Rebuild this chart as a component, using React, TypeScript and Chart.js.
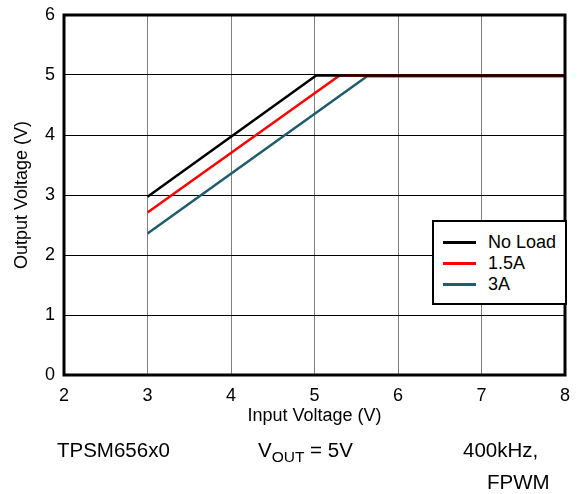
import React, { useEffect, useRef } from "react";
import { Chart, registerables } from "chart.js";

Chart.register(...registerables);

const seriesNames = ["No Load", "1.5A", "3A"];
const seriesColors = ["#000000", "#ff0000", "#1f5d6c"];
const noLoadX = [3, 5.02, 8];
const noLoadY = [2.97, 4.99, 4.99];
const load15X = [3, 5.3, 8];
const load15Y = [2.71, 4.99, 4.99];
const load3X = [3, 5.63, 8];
const load3Y = [2.36, 4.98, 4.98];
const xTicks = [2, 3, 4, 5, 6, 7, 8];
const yTicks = [0, 1, 2, 3, 4, 5, 6];

const FONT = "'Liberation Sans', Arial, sans-serif";

const toPoints = (xs: number[], ys: number[]) => xs.map((x, i) => ({ x, y: ys[i] }));

const framePlugin = {
  id: "frame",
  afterDraw(chart: any) {
    const { ctx, chartArea } = chart;
    ctx.save();
    ctx.strokeStyle = "#000";
    ctx.lineWidth = 3;
    ctx.strokeRect(chartArea.left, chartArea.top, chartArea.right - chartArea.left, chartArea.bottom - chartArea.top);
    ctx.restore();
  },
};

export default function App() {
  const ref = useRef<HTMLCanvasElement>(null);
  useEffect(() => {
    document.body.style.margin = "0";
    const xs = [noLoadX, load15X, load3X];
    const ys = [noLoadY, load15Y, load3Y];
    const chart = new Chart(ref.current!, {
      type: "line",
      data: {
        datasets: seriesNames.map((name, i) => ({
          label: name,
          data: toPoints(xs[i], ys[i]),
          borderColor: seriesColors[i],
          backgroundColor: seriesColors[i],
          borderWidth: 2.5,
          pointRadius: 0,
          tension: 0,
        })),
      },
      options: {
        responsive: false,
        animation: false,
        layout: { padding: { top: 15, right: 14, bottom: 65, left: 0 } },
        plugins: { legend: { display: false }, tooltip: { enabled: false } },
        scales: {
          x: {
            type: "linear",
            min: 2,
            max: 8,
            afterBuildTicks: (s: any) => { s.ticks = xTicks.map((v) => ({ value: v })); },
            afterFit: (s: any) => { s.height = 54; s.paddingLeft = 0; s.paddingRight = 0; },
            grid: { color: "#808080", lineWidth: 1, drawTicks: false },
            border: { display: false },
            ticks: { color: "#000", font: { family: FONT, size: 18 }, padding: 10 },
            title: { display: true, text: "Input Voltage (V)", color: "#000", font: { family: FONT, size: 18 }, padding: { top: 0, bottom: 2 } },
          },
          y: {
            type: "linear",
            min: 0,
            max: 6,
            afterBuildTicks: (s: any) => { s.ticks = yTicks.map((v) => ({ value: v })); },
            afterFit: (s: any) => { s.width = 64; s.paddingTop = 0; s.paddingBottom = 0; },
            grid: { color: "#000000", lineWidth: 1, drawTicks: false },
            border: { display: false },
            ticks: { color: "#000", font: { family: FONT, size: 18 }, padding: 9 },
            title: { display: true, text: "Output Voltage (V)", color: "#000", font: { family: FONT, size: 18 }, padding: { top: 11, bottom: 0 } },
          },
        },
      },
      plugins: [framePlugin],
    });
    return () => chart.destroy();
  }, []);

  const textStyle: React.CSSProperties = {
    position: "absolute",
    fontFamily: FONT,
    fontSize: 20.5,
    lineHeight: "20px",
    color: "#000",
    whiteSpace: "nowrap",
  };

  return (
    <div style={{ position: "absolute", left: 0, top: 0, width: 579, height: 494, background: "#fff" }}>
      <canvas ref={ref} width={579} height={494} style={{ display: "block" }} />
      <div
        style={{
          position: "absolute",
          left: 432,
          top: 220,
          width: 131,
          height: 81,
          border: "2px solid #000",
          background: "#fff",
          fontFamily: FONT,
          fontSize: 18,
        }}
      >
        {seriesNames.map((name, i) => (
          <div key={name} style={{ position: "absolute", left: 9, top: 10 + i * 21, height: 20, display: "flex", alignItems: "center" }}>
            <div style={{ width: 33, height: 3, background: seriesColors[i] }} />
            <span style={{ marginLeft: 12, lineHeight: "20px" }}>{name}</span>
          </div>
        ))}
      </div>
      <div style={{ ...textStyle, left: 57, top: 440 }}>TPSM656x0</div>
      <div style={{ ...textStyle, left: 258, top: 440 }}>
        V<sub style={{ fontSize: 15.5, verticalAlign: "-5px", lineHeight: 0 }}>OUT</sub> = 5V
      </div>
      <div style={{ ...textStyle, left: 463, top: 440 }}>400kHz,</div>
      <div style={{ ...textStyle, left: 487, top: 472 }}>FPWM</div>
    </div>
  );
}
